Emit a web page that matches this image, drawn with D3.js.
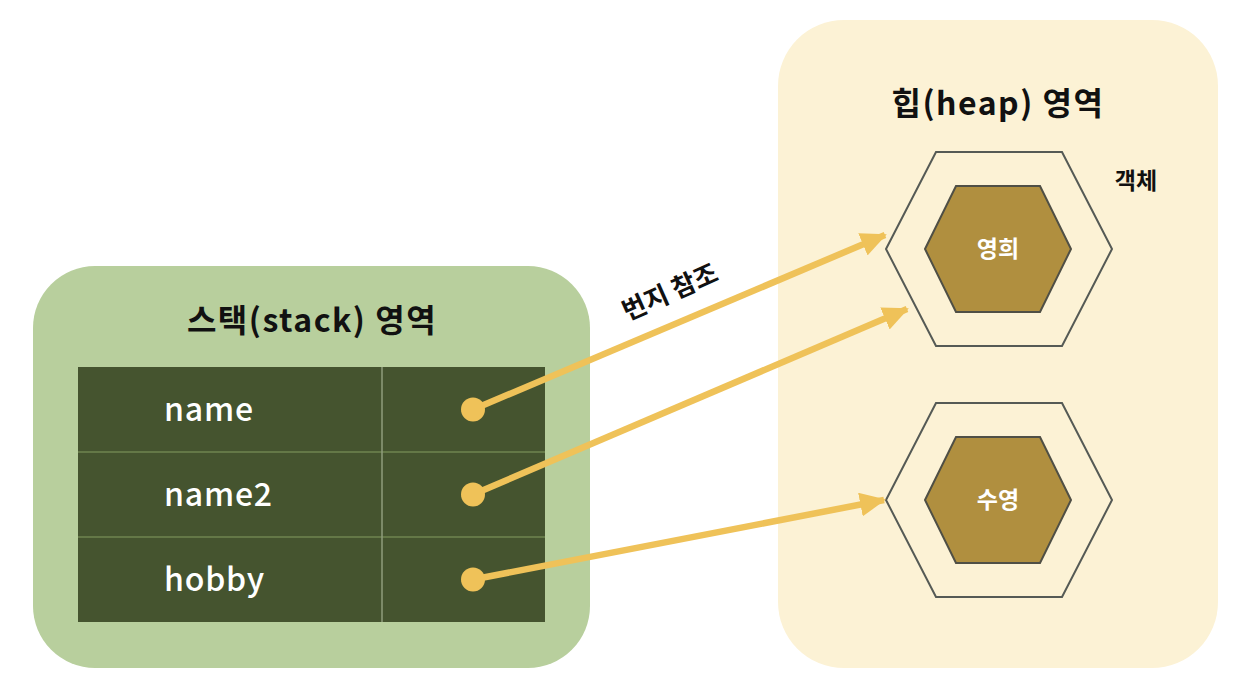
<!DOCTYPE html>
<html>
<head>
<meta charset="utf-8">
<script src="https://cdn.jsdelivr.net/npm/d3@7"></script>
<style>
  html, body { margin: 0; padding: 0; background: #fff; }
  svg { display: block; }
  text { font-family: "Noto Sans CJK KR", "Noto Sans", sans-serif; }
</style>
</head>
<body>
<svg id="chart" width="1252" height="696"></svg>
<script>
// variables on the stack
const stackVars = ["name", "name2", "hobby"];
// objects on the heap
const heapObjects = ["영희", "수영"];
// which object each variable points to
const refTargets = ["영희", "영희", "수영"];

const stackTitle = "스택(stack) 영역";
const heapTitle = "힙(heap) 영역";
const refLabel = "번지 참조";
const objectLabel = "객체";

const svg = d3.select("#chart");
svg.selectAll("*").remove();

// ---- stack area ----
const stackBox = {x: 33, y: 266, w: 557, h: 402, r: 62};
const table = {x: 78, y: 367, w: 467, h: 255, split: 382};

svg.append("rect")
    .attr("x", stackBox.x).attr("y", stackBox.y)
    .attr("width", stackBox.w).attr("height", stackBox.h)
    .attr("rx", stackBox.r)
    .attr("fill", "#b8cf9d");

svg.append("text")
    .attr("x", 312)
    .attr("y", 332)
    .attr("text-anchor", "middle")
    .attr("font-size", 32)
    .attr("font-weight", "bold")
    .attr("letter-spacing", 1.5)
    .attr("fill", "#111")
    .text(stackTitle);

const rowY = d3.scaleBand()
    .domain(stackVars)
    .range([table.y, table.y + table.h]);

svg.append("rect")
    .attr("x", table.x).attr("y", table.y)
    .attr("width", table.w).attr("height", table.h)
    .attr("fill", "#45542f");

// row separators
svg.selectAll(".rowline")
  .data(stackVars.slice(1))
  .enter().append("line")
    .attr("x1", table.x).attr("x2", table.x + table.w)
    .attr("y1", d => rowY(d)).attr("y2", d => rowY(d))
    .attr("stroke", "#6f8550")
    .attr("stroke-width", 1.5);

svg.append("line")
    .attr("x1", table.split).attr("x2", table.split)
    .attr("y1", table.y).attr("y2", table.y + table.h)
    .attr("stroke", "#8f9c7c")
    .attr("stroke-width", 1.5);

svg.selectAll(".varname")
  .data(stackVars)
  .enter().append("text")
    .attr("x", 164)
    .attr("y", d => rowY(d) + rowY.bandwidth() / 2)
    .attr("dy", "0.35em")
    .attr("font-size", 32)
    .attr("font-weight", 500)
    .attr("letter-spacing", 0.8)
    .attr("fill", "#fff")
    .text(d => d);

// ---- heap area ----
const heapBox = {x: 778, y: 20, w: 440, h: 648, r: 66};

svg.append("rect")
    .attr("x", heapBox.x).attr("y", heapBox.y)
    .attr("width", heapBox.w).attr("height", heapBox.h)
    .attr("rx", heapBox.r)
    .attr("fill", "#fcf2d5");

svg.append("text")
    .attr("x", 998)
    .attr("y", 115)
    .attr("text-anchor", "middle")
    .attr("font-size", 32)
    .attr("font-weight", "bold")
    .attr("letter-spacing", 1.5)
    .attr("fill", "#111")
    .text(heapTitle);

svg.append("text")
    .attr("x", 1136)
    .attr("y", 189)
    .attr("text-anchor", "middle")
    .attr("font-size", 23)
    .attr("font-weight", "bold")
    .attr("fill", "#111")
    .text(objectLabel);

const objY = d3.scalePoint()
    .domain(heapObjects)
    .range([249, 500]);
const hexCx = 999;

const outerHex = {hw: 113, tw: 63, hh: 97};
const innerHex = {hw: 73, tw: 42, hh: 63};

function hexPoints(cx, cy, s) {
  return [
    [cx - s.hw, cy], [cx - s.tw, cy - s.hh], [cx + s.tw, cy - s.hh],
    [cx + s.hw, cy], [cx + s.tw, cy + s.hh], [cx - s.tw, cy + s.hh]
  ].map(p => p.join(",")).join(" ");
}

const obj = svg.selectAll(".obj")
  .data(heapObjects)
  .enter().append("g")
    .attr("class", "obj");

obj.append("polygon")
    .attr("points", d => hexPoints(hexCx, objY(d), outerHex))
    .attr("fill", "none")
    .attr("stroke", "#555a55")
    .attr("stroke-width", 2);

obj.append("polygon")
    .attr("points", d => hexPoints(hexCx - 1, objY(d), innerHex))
    .attr("fill", "#b08f3f")
    .attr("stroke", "#4f4f45")
    .attr("stroke-width", 2);

obj.append("text")
    .attr("x", hexCx - 1)
    .attr("y", d => objY(d))
    .attr("dy", "0.35em")
    .attr("text-anchor", "middle")
    .attr("font-size", 23)
    .attr("font-weight", "bold")
    .attr("fill", "#fff")
    .text(d => d);

// ---- references ----
const arrowColor = "#efc259";

svg.append("defs").append("marker")
    .attr("id", "head")
    .attr("markerUnits", "userSpaceOnUse")
    .attr("viewBox", "0 0 26 24")
    .attr("markerWidth", 26).attr("markerHeight", 24)
    .attr("refX", 24).attr("refY", 12)
    .attr("orient", "auto")
  .append("path")
    .attr("d", "M0,0 L26,12 L0,24 Z")
    .attr("fill", arrowColor);

const dotX = 473;
// tip offsets from hexagon centre, one per arrow
const tipOffset = [[-114, -14], [-92, 60], [-115, 0]];

const refs = stackVars.map((v, i) => ({
  x1: dotX,
  y1: rowY(v) + rowY.bandwidth() / 2,
  x2: hexCx + tipOffset[i][0],
  y2: objY(refTargets[i]) + tipOffset[i][1]
}));

svg.selectAll(".ref")
  .data(refs)
  .enter().append("line")
    .attr("x1", d => d.x1).attr("y1", d => d.y1)
    .attr("x2", d => d.x2).attr("y2", d => d.y2)
    .attr("stroke", arrowColor)
    .attr("stroke-width", 6.5)
    .attr("marker-end", "url(#head)");

svg.selectAll(".dot")
  .data(refs)
  .enter().append("circle")
    .attr("cx", d => d.x1).attr("cy", d => d.y1)
    .attr("r", 12)
    .attr("fill", arrowColor);

svg.append("text")
    .attr("transform", "translate(670,292) rotate(-24)")
    .attr("text-anchor", "middle")
    .attr("dy", "0.35em")
    .attr("font-size", 26)
    .attr("font-weight", "bold")
    .attr("fill", "#111")
    .text(refLabel);
</script>
</body>
</html>
